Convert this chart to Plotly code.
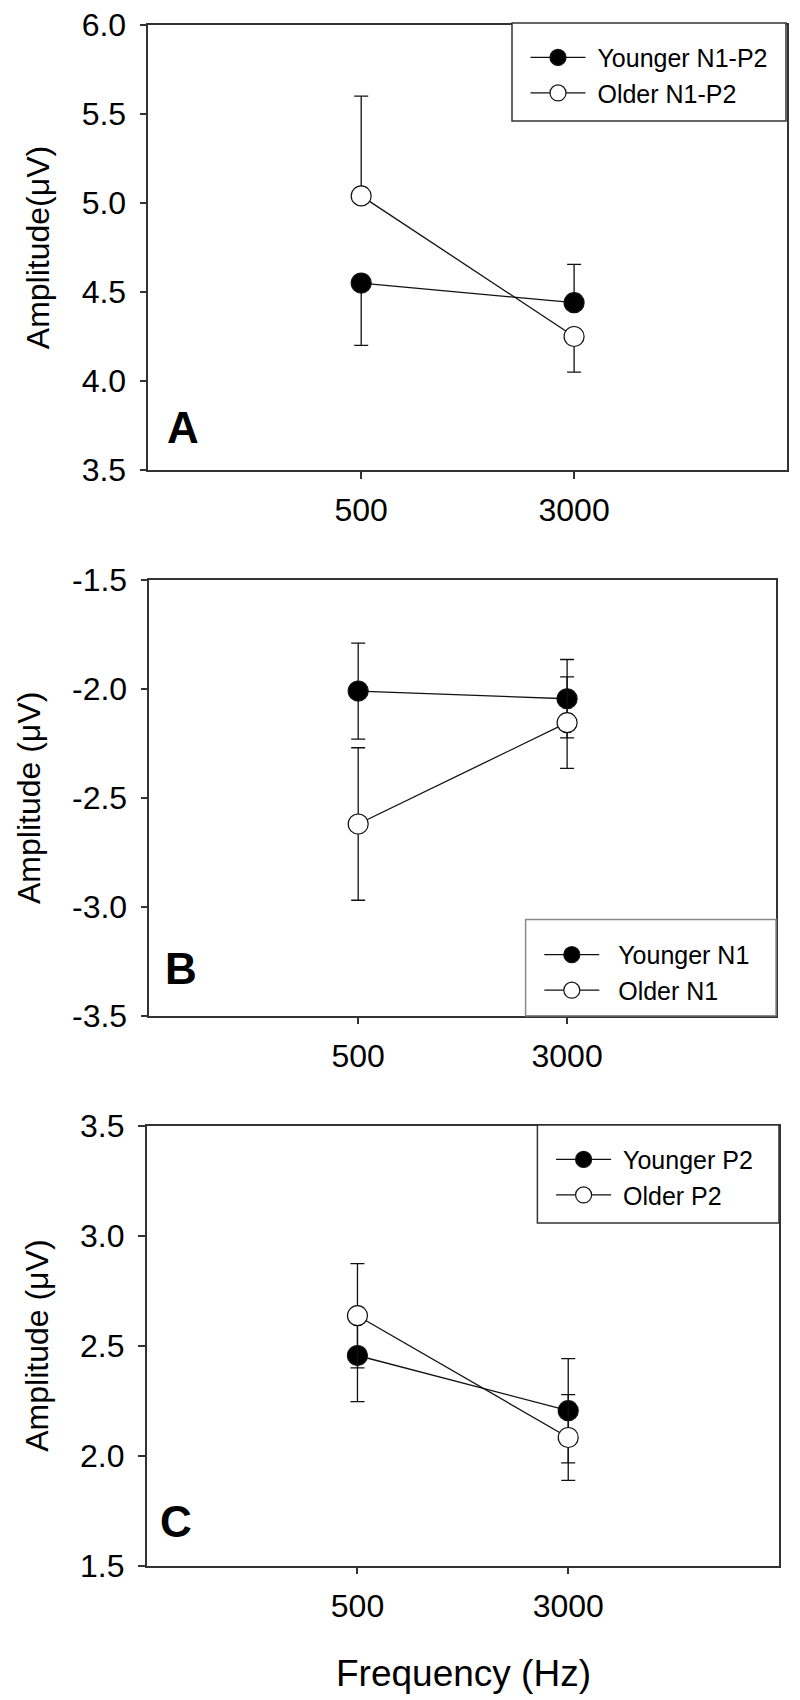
import plotly.graph_objects as go

# page is rendered with an 8px body margin; figure sized to fit the 800x1700 window
OFF = 8
FW, FH = 792, 1692

FREQS = ["500", "3000"]

# Panel A: N1-P2 amplitude
A_YOUNG = [4.55, 4.44]
A_YOUNG_ERR_UP = [0.0, 0.215]
A_YOUNG_ERR_DN = [0.35, 0.0]
A_OLD = [5.04, 4.25]
A_OLD_ERR_UP = [0.56, 0.0]
A_OLD_ERR_DN = [0.0, 0.20]

# Panel B: N1 amplitude
B_YOUNG = [-2.01, -2.045]
B_YOUNG_ERR = [0.22, 0.18]
B_OLD = [-2.62, -2.155]
B_OLD_ERR = [0.35, 0.21]

# Panel C: P2 amplitude
C_YOUNG = [2.455, 2.204]
C_YOUNG_ERR = [0.21, 0.237]
C_OLD = [2.636, 2.082]
C_OLD_ERR = [0.237, 0.195]

YTICKS_A = [3.5, 4.0, 4.5, 5.0, 5.5, 6.0]
YTICKS_B = [-3.5, -3.0, -2.5, -2.0, -1.5]
YTICKS_C = [1.5, 2.0, 2.5, 3.0, 3.5]

FONT = "Arial, Liberation Sans, sans-serif"
INK = "#111111"
NB = "\u00a0"

def px_x(p):
    return (p - OFF) / FW

def px_y(p):
    return 1 - (p - OFF) / FH

panels = [
    dict(name="A", young=A_YOUNG, old=A_OLD,
         yerr=dict(type="data", array=A_YOUNG_ERR_UP, arrayminus=A_YOUNG_ERR_DN, symmetric=False),
         oerr=dict(type="data", array=A_OLD_ERR_UP, arrayminus=A_OLD_ERR_DN, symmetric=False),
         ylab="Amplitude(μV)", yticks=YTICKS_A, yrange=[3.5, 6.0],
         box=(148.3, 787, 25, 470), labels=("Younger N1-P2", "Older N1-P2"), pad=1,
         legbox=(512, 786, 23, 121), legcol="#333333", leg_xy=(525.5, 34.7), letter=(165, 427)),
    dict(name="B", young=B_YOUNG, old=B_OLD,
         yerr=dict(type="data", array=B_YOUNG_ERR, symmetric=True),
         oerr=dict(type="data", array=B_OLD_ERR, symmetric=True),
         ylab="Amplitude (μV)", yticks=YTICKS_B, yrange=[-3.5, -1.5],
         box=(149.3, 776, 580, 1015.7), labels=("Younger N1", "Older N1"), pad=2,
         legbox=(525.6, 776, 919.5, 1015.7), legcol="#8a8a8a", leg_xy=(539.3, 931.9), letter=(163, 968)),
    dict(name="C", young=C_YOUNG, old=C_OLD,
         yerr=dict(type="data", array=C_YOUNG_ERR, symmetric=True),
         oerr=dict(type="data", array=C_OLD_ERR, symmetric=True),
         ylab="Amplitude (μV)", yticks=YTICKS_C, yrange=[1.5, 3.5],
         box=(146.7, 779, 1125.7, 1565.5), labels=("Younger P2", "Older P2"), pad=1,
         legbox=(537.4, 779, 1125, 1223), legcol="#333333", leg_xy=(551.1, 1136.7), letter=(158, 1521)),
]

fig = go.Figure()
shapes = []
annotations = []
layout = {}

for i, p in enumerate(panels):
    sfx = "" if i == 0 else str(i + 1)
    xa, ya = "x" + sfx, "y" + sfx
    leg = "legend" + sfx
    err_style = dict(color=INK, thickness=1.3, width=7)
    fig.add_trace(go.Scatter(
        x=FREQS, y=p["young"], xaxis=xa, yaxis=ya, name=NB * p["pad"] + p["labels"][0], legend=leg,
        mode="lines+markers", line=dict(color=INK, width=1.3),
        marker=dict(size=20, color="black", line=dict(color=INK, width=1.2)),
        error_y=dict(**p["yerr"], **err_style)))
    fig.add_trace(go.Scatter(
        x=FREQS, y=p["old"], xaxis=xa, yaxis=ya, name=NB * p["pad"] + p["labels"][1], legend=leg,
        mode="lines+markers", line=dict(color=INK, width=1.3),
        marker=dict(size=20, color="white", line=dict(color=INK, width=1.2)),
        error_y=dict(**p["oerr"], **err_style)))

    x0, x1, y0, y1 = p["box"]
    axis_common = dict(showline=True, mirror=True, linecolor="#333333", linewidth=1.5,
                       ticks="outside", ticklen=7, tickwidth=1.5, tickcolor="#333333",
                       showgrid=False, zeroline=False, automargin=False, ticklabeloverflow="allow",
                       tickfont=dict(family=FONT, size=32, color="black"))
    layout["xaxis" + sfx] = dict(axis_common, domain=[px_x(x0), px_x(x1)], anchor=ya,
                                 type="category", range=[-1, 2], ticklabelstandoff=4)
    layout["yaxis" + sfx] = dict(axis_common, domain=[px_y(y1), px_y(y0)], anchor=xa,
                                 range=p["yrange"], tickvals=p["yticks"],
                                 ticktext=[f"{v:.1f}" for v in p["yticks"]], ticklabelstandoff=7,
                                 title=dict(text=p["ylab"], font=dict(family=FONT, size=32, color="black"),
                                            standoff=22))

    lx0, lx1, ly0, ly1 = p["legbox"]
    shapes.append(dict(type="rect", xref="paper", yref="paper",
                       x0=px_x(lx0), x1=px_x(lx1), y0=px_y(ly1), y1=px_y(ly0),
                       line=dict(color=p["legcol"], width=1.5), fillcolor="white", layer="above"))
    layout[leg] = dict(x=px_x(p["leg_xy"][0]), y=px_y(p["leg_xy"][1]), xanchor="left", yanchor="top",
                       bgcolor="rgba(0,0,0,0)", borderwidth=0, itemwidth=55,
                       font=dict(family=FONT, size=25, color="black"), tracegroupgap=0)
    annotations.append(dict(text="<b>%s</b>" % p["name"], xref="paper", yref="paper",
                            x=px_x(p["letter"][0]), y=px_y(p["letter"][1]), xanchor="left", yanchor="middle",
                            showarrow=False, font=dict(family=FONT, size=44, color="black")))

annotations.append(dict(text="Frequency (Hz)", xref="paper", yref="paper",
                        x=px_x(463), y=px_y(1673), xanchor="center", yanchor="middle",
                        showarrow=False, font=dict(family=FONT, size=37, color="black")))

fig.update_layout(width=FW, height=FH, margin=dict(l=0, r=0, t=0, b=0, autoexpand=False),
                  paper_bgcolor="white", plot_bgcolor="white", showlegend=True,
                  shapes=shapes, annotations=annotations, **layout)

fig.write_html("out.html")
